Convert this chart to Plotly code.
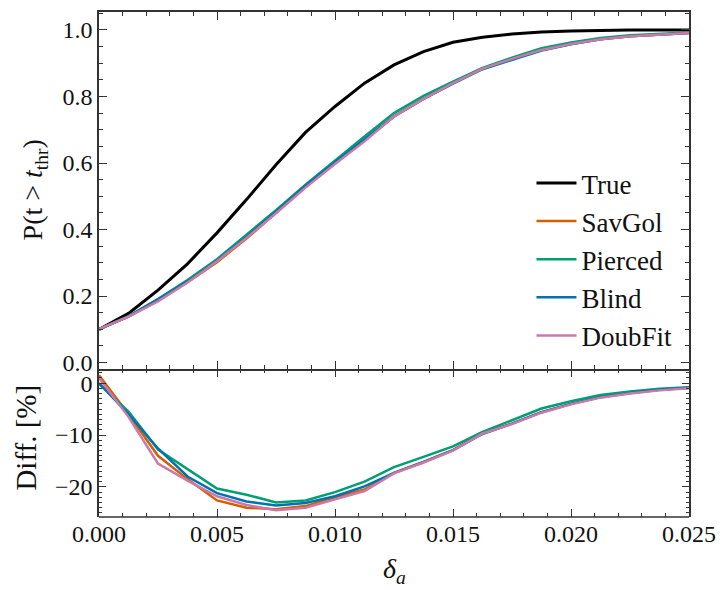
import plotly.graph_objects as go

delta = [0.0, 0.00125, 0.0025, 0.00375, 0.005, 0.00625, 0.0075, 0.00875, 0.01, 0.01125,
         0.0125, 0.01375, 0.015, 0.01625, 0.0175, 0.01875, 0.02, 0.02125, 0.0225, 0.02375, 0.025]

p_true = [0.100, 0.148, 0.218, 0.297, 0.390, 0.490, 0.595, 0.692, 0.770, 0.840,
          0.895, 0.935, 0.963, 0.978, 0.988, 0.994, 0.997, 0.999, 1.000, 1.000, 1.000]
p_savgol = [0.101, 0.138, 0.187, 0.242, 0.302, 0.373, 0.450, 0.528, 0.600, 0.670,
            0.740, 0.793, 0.840, 0.884, 0.913, 0.940, 0.958, 0.972, 0.981, 0.987, 0.991]
p_pierced = [0.100, 0.140, 0.191, 0.248, 0.311, 0.385, 0.458, 0.535, 0.608, 0.680,
             0.750, 0.802, 0.845, 0.886, 0.917, 0.945, 0.962, 0.976, 0.984, 0.989, 0.992]
p_blind = [0.100, 0.139, 0.190, 0.244, 0.307, 0.378, 0.454, 0.532, 0.602, 0.672,
           0.740, 0.793, 0.839, 0.882, 0.911, 0.938, 0.957, 0.972, 0.981, 0.987, 0.991]
p_doubfit = [0.101, 0.138, 0.184, 0.241, 0.305, 0.375, 0.449, 0.526, 0.597, 0.665,
             0.740, 0.793, 0.840, 0.884, 0.913, 0.940, 0.958, 0.972, 0.981, 0.987, 0.991]

d_savgol = [1.5, -6.0, -14.0, -18.5, -22.6, -24.0, -24.3, -23.7, -22.0, -20.5,
            -17.3, -15.2, -12.9, -9.6, -7.8, -5.6, -4.0, -2.7, -1.9, -1.3, -0.9]
d_pierced = [-0.1, -5.5, -12.8, -16.5, -20.3, -21.5, -23.0, -22.6, -21.0, -19.0,
             -16.2, -14.2, -12.2, -9.4, -7.2, -4.9, -3.5, -2.3, -1.6, -1.1, -0.8]
d_blind = [0.0, -6.0, -12.6, -18.0, -21.2, -22.8, -23.6, -23.1, -21.8, -19.9,
           -17.3, -15.2, -12.9, -9.8, -7.8, -5.6, -4.0, -2.7, -1.9, -1.3, -0.9]
d_doubfit = [1.0, -6.5, -15.5, -18.8, -21.8, -23.5, -24.5, -24.0, -22.4, -20.8,
             -17.4, -15.3, -13.0, -9.7, -7.9, -5.7, -4.1, -2.8, -2.0, -1.4, -1.0]

names = ["True", "SavGol", "Pierced", "Blind", "DoubFit"]
colors = ["#000000", "#D55E00", "#009E73", "#0072B2", "#CC79A7"]
top_series = [p_true, p_savgol, p_pierced, p_blind, p_doubfit]
bot_series = [None, d_savgol, d_pierced, d_blind, d_doubfit]

FONT = "Liberation Serif"
fig = go.Figure()
for name, col, ys in zip(names, colors, top_series):
    fig.add_trace(go.Scatter(x=delta, y=ys, mode="lines", name=name,
                             line=dict(color=col, width=3 if name == "True" else 2.5),
                             xaxis="x", yaxis="y"))
for name, col, ys in zip(names, colors, bot_series):
    if ys is None:
        continue
    fig.add_trace(go.Scatter(x=delta, y=ys, mode="lines", name=name, showlegend=False,
                             line=dict(color=col, width=2.5),
                             xaxis="x2", yaxis="y2"))

axcol = "#333333"
split = 149 / 507
common_x = dict(range=[0, 0.025], showgrid=False, zeroline=False,
                linecolor=axcol, linewidth=1.5, ticks="inside",
                ticklen=8, tickwidth=1.2, tickcolor=axcol, dtick=0.005,
                minor=dict(ticks="inside", dtick=0.001, ticklen=4, tickcolor=axcol, tickwidth=1))
fig.update_layout(
    width=726, height=590,
    margin=dict(l=99, r=30, t=10, b=73),
    paper_bgcolor="white", plot_bgcolor="white",
    font=dict(family=FONT, size=24, color="#111111"),
    xaxis=dict(**common_x, showline=True, mirror="ticks", domain=[0, 1], anchor="y",
               showticklabels=False),
    yaxis=dict(domain=[split, 1], range=[-0.018, 1.054], anchor="x",
               showgrid=False, zeroline=False, showline=True, linecolor=axcol, linewidth=1.5,
               mirror="ticks", ticks="inside", ticklen=8, tickwidth=1.2, tickcolor=axcol,
               tickvals=[0, 0.2, 0.4, 0.6, 0.8, 1.0], ticktext=["0.0", "0.2", "0.4", "0.6", "0.8", "1.0"],
               minor=dict(ticks="inside", dtick=0.05, ticklen=4, tickcolor=axcol, tickwidth=1)),
    xaxis2=dict(**common_x, showline=False, mirror="ticks", domain=[0, 1], anchor="y2",
                tickvals=[0, 0.005, 0.01, 0.015, 0.02, 0.025],
                ticktext=["0.000", "0.005", "0.010", "0.015", "0.020", "0.025"]),
    yaxis2=dict(domain=[0, split], range=[-25.8, 2.8], anchor="x2",
                showgrid=False, zeroline=False, showline=True, linecolor=axcol, linewidth=1.5,
                mirror="ticks", ticks="inside", ticklen=7, tickwidth=1.2, tickcolor=axcol,
                tickvals=[0, -10, -20], ticktext=["0", "\u221210", "\u221220"],
                minor=dict(ticks="inside", dtick=1, ticklen=3, tickcolor=axcol, tickwidth=1)),
    legend=dict(x=0.733, y=0.311, xanchor="left", yanchor="bottom",
                bgcolor="rgba(0,0,0,0)", font=dict(size=27, family=FONT),
                tracegroupgap=0, itemwidth=40),
    showlegend=True,
)

# bottom frame line of the lower panel (xaxis2 line hidden to avoid a doubled middle border)
fig.add_shape(type="line", xref="x2 domain", yref="y2 domain", x0=0, x1=1, y0=0, y1=0,
              line=dict(color=axcol, width=1.5))

fig.add_annotation(text="P(t > <i>t</i><sub>thr</sub>)", xref="paper", yref="paper",
                   x=-0.11, y=(1 + split) / 2, textangle=-90, showarrow=False,
                   font=dict(size=28, family=FONT), xanchor="center", yanchor="middle")
fig.add_annotation(text="Diff. [%]", xref="paper", yref="paper",
                   x=-0.124, y=split / 2 + 0.01, textangle=-90, showarrow=False,
                   font=dict(size=29, family=FONT), xanchor="center", yanchor="middle")
fig.add_annotation(text="<i>δ<sub>a</sub></i>", xref="paper", yref="paper",
                   x=0.5, y=-0.105, showarrow=False,
                   font=dict(size=28, family=FONT), xanchor="center", yanchor="middle")

fig.write_html("out.html")
